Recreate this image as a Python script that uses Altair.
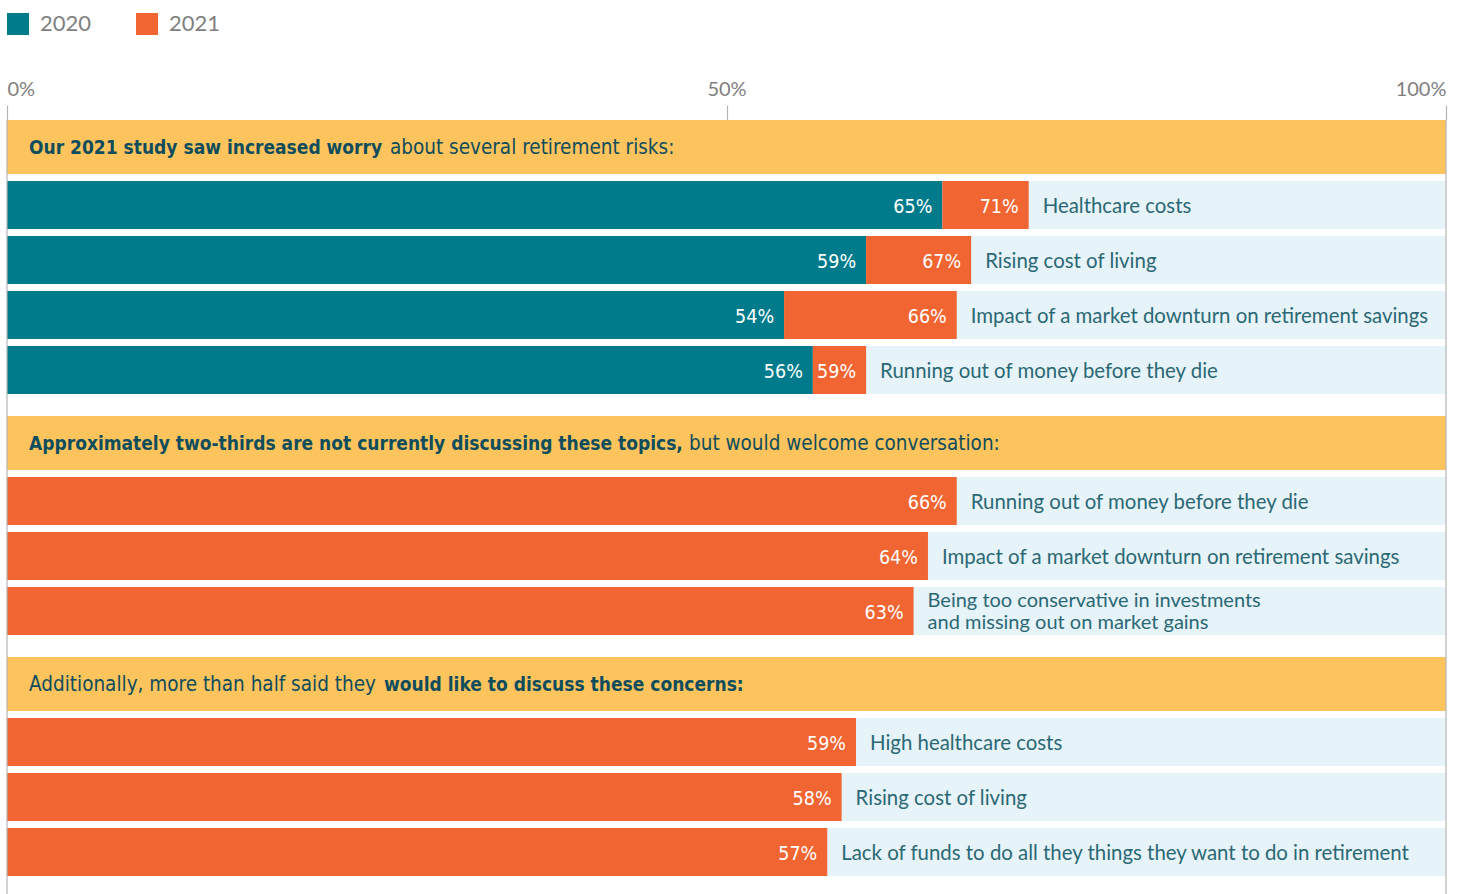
import altair as alt
import pandas as pd

# ---------------- data ----------------
years = ["2020", "2021"]

header_parts = [
    [("Our 2021 study saw increased worry", "bold"), ("about several retirement risks:", "normal")],
    [("Approximately two-thirds are not currently discussing these topics,", "bold"), ("but would welcome conversation:", "normal")],
    [("Additionally, more than half said they", "normal"), ("would like to discuss these concerns:", "bold")],
]

labels_1 = ["Healthcare costs", "Rising cost of living",
            "Impact of a market downturn on retirement savings",
            "Running out of money before they die"]
values_2020_1 = [65, 59.7, 54, 56]
values_2021_1 = [71, 67, 66, 59.7]
pct_2020_1 = ["65%", "59%", "54%", "56%"]
pct_2021_1 = ["71%", "67%", "66%", "59%"]

labels_2 = ["Running out of money before they die",
            "Impact of a market downturn on retirement savings",
            "Being too conservative in investments\nand missing out on market gains"]
values_2021_2 = [66, 64, 63]

labels_3 = ["High healthcare costs", "Rising cost of living",
            "Lack of funds to do all they things they want to do in retirement"]
values_2021_3 = [59, 58, 57]

axis_ticks = [0, 50, 100]
edge_lines = [0, 100]

# ---------------- styles / layout ----------------
TEAL = "#007b8b"
ORANGE = "#f16532"
YELLOW = "#fdc35c"
LIGHT = "#e6f3f8"
HEAD_TXT = "#0e4d5c"
LABEL_TXT = "#2b6875"
GRAY = "#808080"

HEADER_H = 54
HEADER_GAP = 7
BAR_H = 48
BAR_GAP = 7
SECTION_GAP = 22
PLOT_H = 774
PLOT_W = 1439

HEAD_FONT = "DejaVu Sans Condensed"
PCT_FONT = "DejaVu Sans Condensed"
BODY_FONT = "Lato"

sections = [
    {"labels": labels_1, "segments": [(0, v0, "2020", p0) for v0, p0 in zip(values_2020_1, pct_2020_1)],
     "segments2": [(v0, v1, "2021", p1) for v0, v1, p1 in zip(values_2020_1, values_2021_1, pct_2021_1)]},
    {"labels": labels_2, "segments": [(0, v, "2021", f"{v:g}%") for v in values_2021_2], "segments2": []},
    {"labels": labels_3, "segments": [(0, v, "2021", f"{v:g}%") for v in values_2021_3], "segments2": []},
]

header_rows, bar_rows, seg_rows = [], [], []
cursor = 0.0
for s_i, sec in enumerate(sections):
    header_rows.append({"section": s_i, "top": cursor, "bottom": cursor + HEADER_H,
                        "mid": cursor + HEADER_H / 2,
                        "part1": header_parts[s_i][0][0], "part2": header_parts[s_i][1][0]})
    cursor += HEADER_H + HEADER_GAP
    for r_i, lab in enumerate(sec["labels"]):
        top, bottom = cursor, cursor + BAR_H
        segs = [sec["segments"][r_i]] + ([sec["segments2"][r_i]] if sec["segments2"] else [])
        end_max = max(sg[1] for sg in segs)
        bar_rows.append({"top": top, "bottom": bottom, "mid": (top + bottom) / 2,
                         "label": lab, "end": end_max, "multi": "\n" in lab})
        for st, en, yr, pct in segs:
            seg_rows.append({"top": top, "bottom": bottom, "mid": (top + bottom) / 2,
                             "start": st, "end": en, "year": yr, "pct": pct})
        cursor += BAR_H + BAR_GAP
    cursor += SECTION_GAP - BAR_GAP

headers_df = pd.DataFrame(header_rows)
rows_df = pd.DataFrame(bar_rows)
segs_df = pd.DataFrame(seg_rows)
edges_df = pd.DataFrame({"x": edge_lines})

yscale = alt.Scale(domain=[0, PLOT_H], reverse=True, nice=False, zero=False)
xscale = alt.Scale(domain=[0, 100], nice=False)

y_top = alt.Y("top:Q", scale=yscale, axis=None)
y_bot = alt.Y2("bottom:Q")
y_mid = alt.Y("mid:Q", scale=yscale, axis=None)

header_bg = alt.Chart(headers_df).mark_rect(color=YELLOW).encode(
    x=alt.datum(0, scale=xscale), x2=alt.datum(100), y=y_top, y2=y_bot)

row_bg = alt.Chart(rows_df).mark_rect(color=LIGHT).encode(
    x=alt.datum(0, scale=xscale), x2=alt.datum(100), y=y_top, y2=y_bot)

bars = alt.Chart(segs_df).mark_rect().encode(
    x=alt.X("start:Q", scale=xscale, title=None,
            axis=alt.Axis(orient="top", values=axis_ticks, labelExpr="datum.value + '%'",
                          labelFlush=True, domain=False, grid=False, tickSize=15,
                          tickColor="#b5b5b5", tickWidth=1.2, labelColor=GRAY,
                          labelFontSize=20, labelFont=BODY_FONT, labelPadding=6)),
    x2="end:Q", y=y_top, y2=y_bot,
    color=alt.Color("year:N", scale=alt.Scale(domain=years, range=[TEAL, ORANGE]),
                    legend=alt.Legend(orient="none", legendX=0, legendY=-107, direction="horizontal",
                                      title=None, symbolType="square", symbolSize=484,
                                      symbolStrokeWidth=0, symbolOpacity=1,
                                      labelFontSize=22, labelFont=BODY_FONT, labelColor=GRAY,
                                      labelOffset=11, columnPadding=44)),
)

pct_text = alt.Chart(segs_df).mark_text(align="right", baseline="middle", dx=-10, dy=2, color="white",
                                        font=PCT_FONT, fontSize=19.5).encode(
    x=alt.X("end:Q", scale=xscale), y=y_mid, text="pct:N")

cat_single = alt.Chart(rows_df[~rows_df["multi"]]).mark_text(
    align="left", baseline="middle", dx=14, dy=2, color=LABEL_TXT,
    font=BODY_FONT, fontSize=20.4).encode(
    x=alt.X("end:Q", scale=xscale), y=y_mid, text="label:N")

cat_multi = alt.Chart(rows_df[rows_df["multi"]]).mark_text(
    align="left", baseline="middle", dx=14, dy=-10, color=LABEL_TXT,
    font=BODY_FONT, fontSize=20, lineBreak="\n", lineHeight=22).encode(
    x=alt.X("end:Q", scale=xscale), y=y_mid, text="label:N")

FS = {"bold": 19, "normal": 20.5}
head_layers = []
part2_dx = [383, 682, 377]
for i, parts in enumerate(header_parts):
    one = headers_df[headers_df["section"] == i]
    head_layers.append(alt.Chart(one).mark_text(
        align="left", baseline="middle", dx=22, dy=1, color=HEAD_TXT, font=HEAD_FONT,
        fontSize=FS[parts[0][1]], fontWeight=parts[0][1]).encode(
        x=alt.datum(0, scale=xscale), y=y_mid, text="part1:N"))
    head_layers.append(alt.Chart(one).mark_text(
        align="left", baseline="middle", dx=part2_dx[i], dy=1, color=HEAD_TXT, font=HEAD_FONT,
        fontSize=FS[parts[1][1]], fontWeight=parts[1][1]).encode(
        x=alt.datum(0, scale=xscale), y=y_mid, text="part2:N"))

edges = alt.Chart(edges_df).mark_rule(color="#b5b5b5", strokeWidth=1.2).encode(
    x=alt.X("x:Q", scale=xscale))

chart = alt.layer(header_bg, row_bg, bars, pct_text, cat_single, cat_multi, *head_layers, edges).properties(
    width=PLOT_W, height=PLOT_H,
    autosize=alt.AutoSizeParams(type="none"),
    padding={"left": 7, "top": 120, "right": 15, "bottom": 0},
).configure_view(stroke=None)

chart.save("out.html", embed_options={"renderer": "svg", "actions": False})
